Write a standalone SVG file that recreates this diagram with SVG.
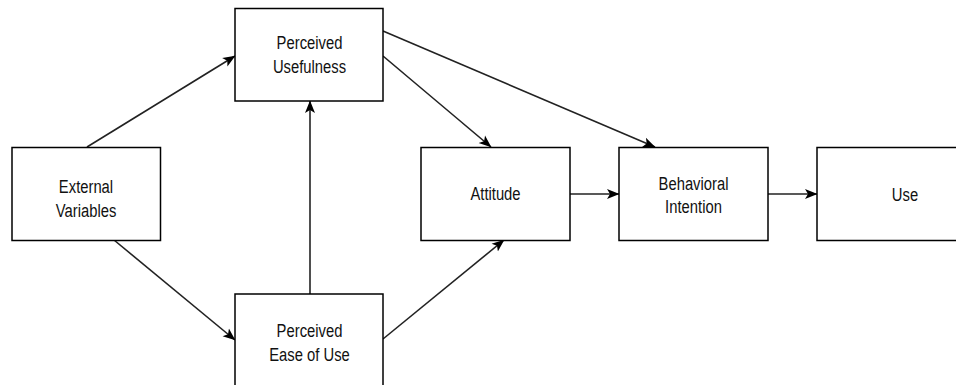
<svg xmlns="http://www.w3.org/2000/svg" width="956" height="385" viewBox="0 0 956 385">
<style>
.box{fill:#fff;stroke:#000;stroke-width:1.5}
.lbl{font-family:"Liberation Sans",Arial,sans-serif;font-size:14.8px;fill:#111;text-anchor:middle}
.edge{fill:none;stroke:#222;stroke-width:1.6;marker-end:url(#arr)}
</style>
<defs>
<marker id="arr" markerUnits="userSpaceOnUse" markerWidth="13" markerHeight="11" viewBox="0 0 13 11" refX="12" refY="5.5" orient="auto">
<path d="M0,0.5 L12.5,5.5 L0,10.5 L3,5.5 Z" fill="#000"/>
</marker>
</defs>
<rect width="956" height="385" fill="#fff"/>
<g id="connectors">
<line class="edge" x1="87" y1="147" x2="235" y2="56"/>
<line class="edge" x1="114" y1="240" x2="235" y2="340"/>
<line class="edge" x1="310" y1="294" x2="310" y2="101"/>
<line class="edge" x1="383" y1="56" x2="491" y2="147"/>
<line class="edge" x1="383" y1="31" x2="655" y2="147"/>
<line class="edge" x1="383" y1="339" x2="504" y2="240"/>
<line class="edge" x1="570" y1="194" x2="619" y2="194"/>
<line class="edge" x1="768" y1="194" x2="817" y2="194"/>
</g>
<g id="external-variables">
<rect class="box" x="12" y="147.5" width="148.5" height="93"/>
<text class="lbl" transform="translate(86,193) scale(1,1.27)">External</text>
<text class="lbl" transform="translate(86,216.5) scale(1,1.27)">Variables</text>
</g>
<g id="perceived-usefulness">
<rect class="box" x="235" y="8.5" width="148" height="92.5"/>
<text class="lbl" transform="translate(309.5,49) scale(1,1.27)">Perceived</text>
<text class="lbl" transform="translate(309.5,72.5) scale(1,1.27)">Usefulness</text>
</g>
<g id="perceived-ease-of-use">
<rect class="box" x="235" y="294" width="148" height="95"/>
<text class="lbl" transform="translate(309.5,337) scale(1,1.27)">Perceived</text>
<text class="lbl" transform="translate(309.5,360.5) scale(1,1.27)">Ease of Use</text>
</g>
<g id="attitude">
<rect class="box" x="421" y="147.5" width="149" height="93"/>
<text class="lbl" transform="translate(495.5,200) scale(1,1.27)">Attitude</text>
</g>
<g id="behavioral-intention">
<rect class="box" x="619" y="147.5" width="149" height="93"/>
<text class="lbl" transform="translate(693.5,190) scale(1,1.27)">Behavioral</text>
<text class="lbl" transform="translate(693.5,213) scale(1,1.27)">Intention</text>
</g>
<g id="use">
<rect class="box" x="817" y="147.5" width="149" height="93"/>
<text class="lbl" transform="translate(905,200.5) scale(1,1.27)">Use</text>
</g>
</svg>
